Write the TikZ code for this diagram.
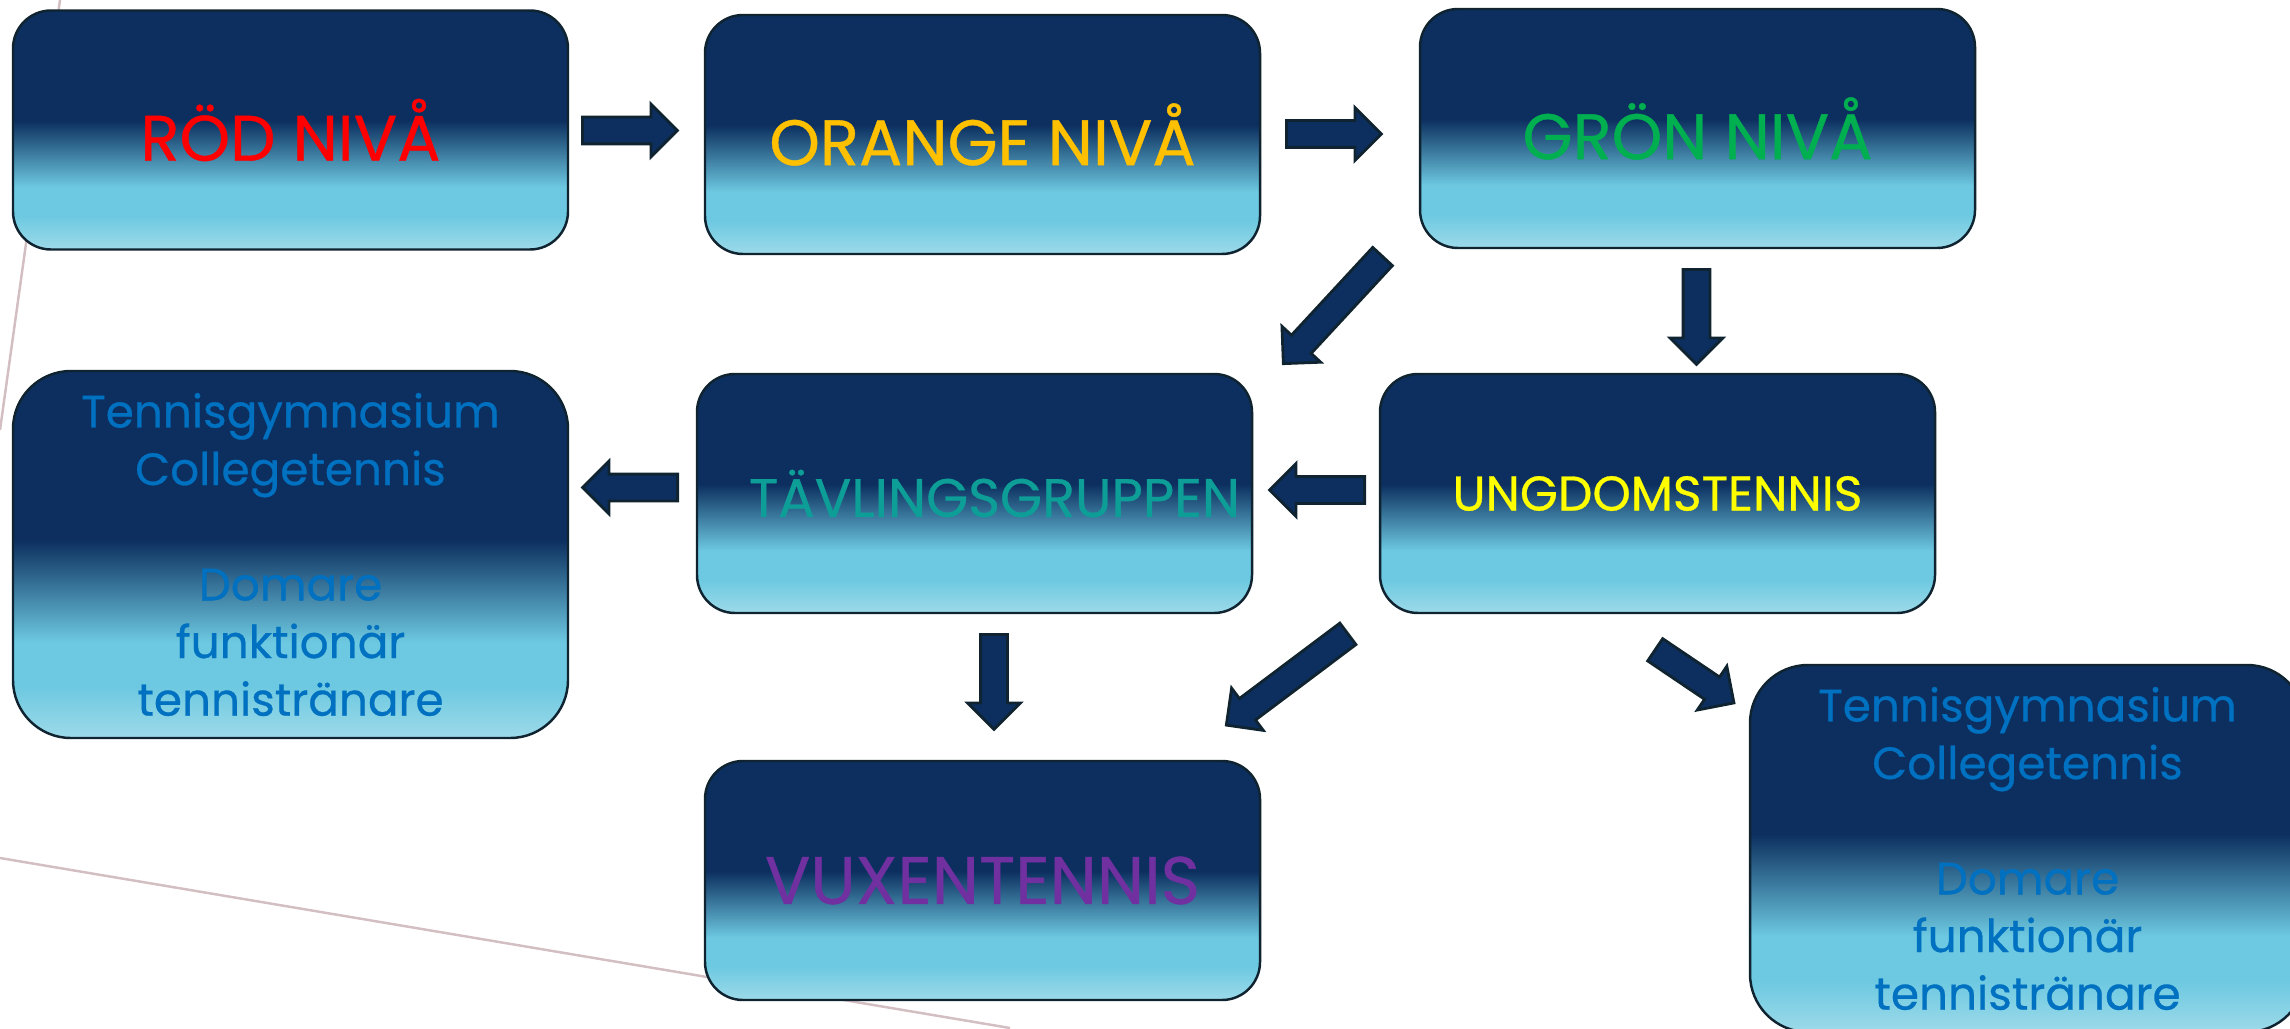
\documentclass[tikz,border=0pt]{standalone}
\usepackage{fontspec}
\setmainfont{Poppins}[FakeBold=0.6]
\usetikzlibrary{shapes.arrows}
\definecolor{cNavy}{HTML}{0C2F5F}
\definecolor{cCyan}{HTML}{6DC9E1}
\definecolor{cPale}{HTML}{9DDAE9}
\definecolor{cEdge}{HTML}{0F2430}
\definecolor{cLine}{HTML}{D3BEC2}
\definecolor{cRed}{HTML}{FF0000}
\definecolor{cOrange}{HTML}{FFC000}
\definecolor{cGreen}{HTML}{00B050}
\definecolor{cTeal}{HTML}{0E9E98}
\definecolor{cYellow}{HTML}{FFFF00}
\definecolor{cPurple}{HTML}{7030A0}
\definecolor{cBlue}{HTML}{0070C0}
\pgfdeclareverticalshading{boxfade}{100bp}{%
  color(0bp)=(cPale); color(25bp)=(cPale); color(32bp)=(cCyan);
  color(38bp)=(cCyan); color(52bp)=(cNavy); color(100bp)=(cNavy)}

\begin{document}
\begin{tikzpicture}[
  nivbox/.style={rounded corners=3.8mm, draw=cEdge, line width=0.7pt,
                 shade, shading=boxfade, minimum width=55.5mm,
                 minimum height=23.9mm, inner sep=0pt, align=center},
  infobox/.style={nivbox, rounded corners=5.8mm, minimum height=36.7mm,
                  font=\fontsize{12.9}{16.4}\selectfont, text=cBlue},
  bigtext/.style={font=\fontsize{18.3}{22}\selectfont},
  barrow/.style={single arrow, draw=cEdge, fill=cNavy, line width=0.8pt,
                 anchor=tail, inner xsep=0pt, inner ysep=1.2mm,
                 minimum width=0pt, minimum height=9.5mm,
                 single arrow head extend=1.3mm},
  bgline/.style={draw=cLine, line width=0.7pt},
]
\useasboundingbox (0,0) rectangle (22.90,-10.28);
\clip (0,0) rectangle (22.90,-10.28);

% ---- Background strokes ------------------------------------------------
\draw[bgline] (0.60,0) -- (0,-4.30);
\draw[bgline] (0,-8.58) -- (10.10,-10.28);

% ---- Levels --------------------------------------------------------------
\node[nivbox, bigtext, text=cRed] (rod) at (2.905,-1.30) {RÖD NIVÅ};
\node[nivbox, bigtext, text=cOrange] (orange) at (9.825,-1.345) {ORANGE NIVÅ};
\node[nivbox, bigtext, text=cGreen] (gron) at (16.975,-1.285) {GRÖN NIVÅ};

% ---- Groups --------------------------------------------------------------
\node[nivbox, font=\fontsize{15.4}{18}\selectfont, text=cTeal] (tavling)
  at (9.745,-4.935) {\hspace*{4mm}TÄVLINGSGRUPPEN};
\node[nivbox, font=\fontsize{13.9}{17}\selectfont, text=cYellow] (ungdom)
  at (16.575,-4.935) {UNGDOMSTENNIS};
\node[nivbox, font=\fontsize{19.1}{23}\selectfont, text=cPurple] (vuxen)
  at (9.825,-8.805) {VUXENTENNIS};

% ---- Further paths -------------------------------------------------------
\node[infobox] (vanster) at (2.905,-5.545)
  {Tennisgymnasium\\Collegetennis\\[16.4pt]Domare\\funktionär\\tennistränare};
\node[infobox] (hoger) at (20.275,-8.485)
  {Tennisgymnasium\\Collegetennis\\[16.4pt]Domare\\funktionär\\tennistränare};

% ---- Block arrows (placed by their tails) -------------------------------
\node[barrow] (a1) at (5.81,-1.305) {};
\node[barrow] (a2) at (12.85,-1.34) {};
\node[barrow, rotate=227.2, minimum height=14.6mm] (a3) at (13.835,-2.555) {};
\node[barrow, rotate=-90] (a4) at (16.965,-2.68) {};
\node[barrow, rotate=180] (a5) at (13.66,-4.90) {};
\node[barrow, rotate=180] (a6) at (6.79,-4.875) {};
\node[barrow, rotate=-90] (a7) at (9.94,-6.33) {};
\node[barrow, rotate=216.9, minimum height=15.2mm] (a8) at (13.49,-6.33) {};
\node[barrow, rotate=-34] (a9) at (16.54,-6.49) {};

\end{tikzpicture}
\end{document}
